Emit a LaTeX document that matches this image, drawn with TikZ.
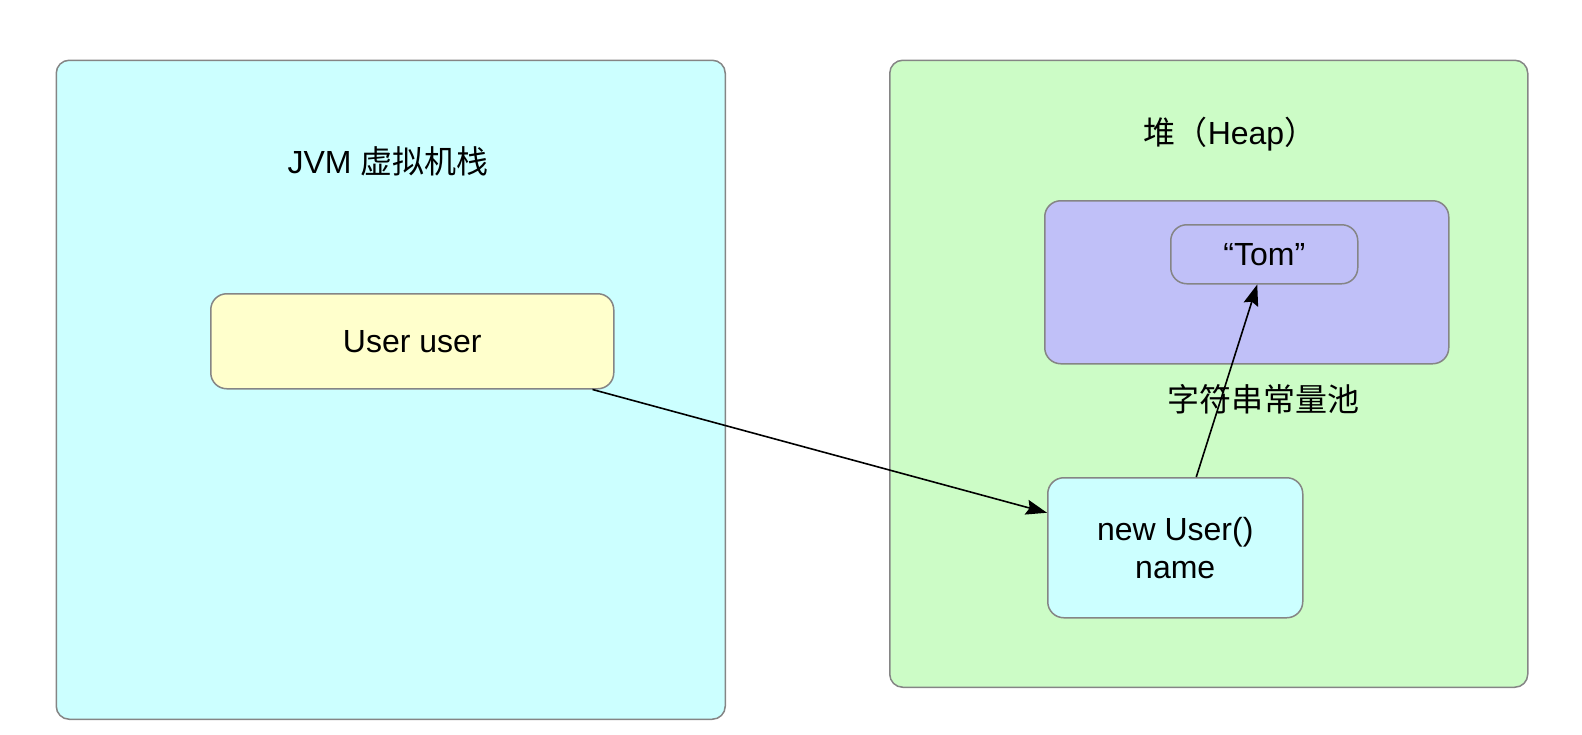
\documentclass[tikz,border=0pt]{standalone}
\usepackage{fontspec}
\setmainfont{Liberation Sans}
\newfontfamily\cjk{Noto Sans CJK SC}
\usetikzlibrary{arrows.meta,calc}
\definecolor{cyanfill}{HTML}{CCFFFF}
\definecolor{yellowfill}{HTML}{FFFFCC}
\definecolor{greenfill}{HTML}{CCFCC6}
\definecolor{purplefill}{HTML}{C0C0F8}
\definecolor{bordergray}{HTML}{858585}
\tikzset{
  panel/.style={draw=bordergray, line width=1.5pt, rounded corners=13pt, anchor=north west, inner sep=0pt},
  item/.style={draw=bordergray, line width=1.5pt, rounded corners=16pt, anchor=north west, inner sep=0pt, align=center, font=\fontsize{32}{38}\selectfont},
  lbl/.style={font=\fontsize{32}{38}\selectfont, inner sep=0pt},
  arr/.style={line width=1.6pt, -{Stealth[length=21pt,width=15pt,inset=3pt]}}
}
\begin{document}
\begin{tikzpicture}[x=1pt,y=-1pt]
\useasboundingbox (0,0) rectangle (1582,734);
% left stack panel
\node[panel, fill=cyanfill, minimum width=669pt, minimum height=659pt] (stack) at (55.5,59.5) {};
\node[lbl] (stacklbl) at (388,161) {JVM {\cjk 虚拟机栈}};
\node[item, fill=yellowfill, minimum width=403pt, minimum height=95pt] (uu) at (210,293) {User user};
% right heap panel
\node[panel, fill=greenfill, minimum width=638pt, minimum height=627pt] (heap) at (889,59.5) {};
\node[lbl] (heaplbl) at (1230,134) {{\cjk 堆（}Heap{\cjk ）}};
\node[panel, fill=purplefill, minimum width=404pt, minimum height=163pt, rounded corners=16pt] (pool) at (1044,200) {};
\node[item, fill=purplefill, minimum width=187pt, minimum height=59pt] (tom) at (1170,224) {“Tom”};
\node[lbl] (poollbl) at (1263,399) {\cjk 字符串常量池};
\node[item, fill=cyanfill, minimum width=255pt, minimum height=140pt] (nu) at (1047,477) {new User()\\name};
% connectors
\draw[arr] ($(uu.south east)+(-22,0)$) -- ($(nu.west)+(0,-35)$);
\draw[arr] ($(nu.north)+(21,0)$) -- ($(tom.south)+(-7,0)$);
\end{tikzpicture}
\end{document}
